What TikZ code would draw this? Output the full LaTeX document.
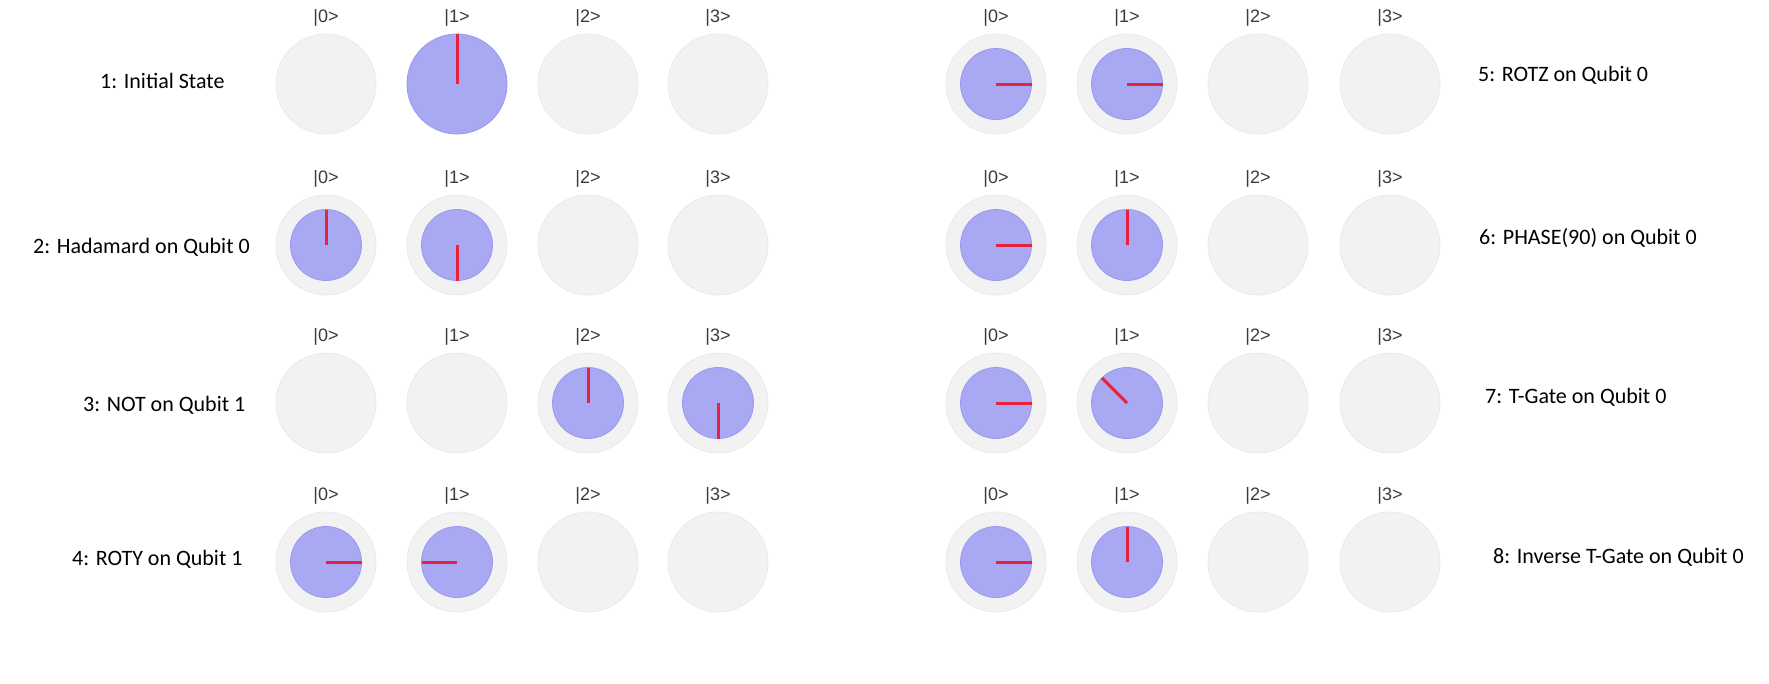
\documentclass[tikz,border=0pt]{standalone}
\usepackage{fontspec}
\setmainfont{Carlito}
\newfontfamily\ketfont{Liberation Sans}
\definecolor{ringfill}{HTML}{F2F2F2}
\definecolor{ringedge}{HTML}{EAEAEA}
\definecolor{ampfill}{HTML}{A9A9F3}
\definecolor{ampedge}{HTML}{9898F0}
\definecolor{handred}{HTML}{E6223F}
\definecolor{ketgray}{HTML}{3A3A3A}
\tikzset{
  ring/.style={circle, fill=ringfill, draw=ringedge, line width=0.8pt, inner sep=0pt, minimum size=100pt},
  amp/.style={circle, fill=ampfill, draw=ampedge, line width=0.8pt, inner sep=0pt, outer sep=0pt, minimum size=#1},
  hand/.style={draw=handred, line width=3pt},
  ket/.style={font=\ketfont\fontsize{18}{20}\selectfont, text=ketgray, inner sep=0pt},
  steplabel/.style={font=\fontsize{22}{24}\selectfont, anchor=west, inner sep=0pt},
}
% ring with ket label
\newcommand\qring[4]{% name, x, y, ket
  \node[ring] (#1) at (#2,#3) {};
  \node[ket] (#1k) at (#2,#3-66) {|#4>};
}
% amplitude dial: name, ring name, diameter, angle
\newcommand\qamp[4]{%
  \node[amp=#3] (#1) at (#2.center) {};
  \draw[hand] (#1.center) -- (#1.#4);
}
\begin{document}
\begin{tikzpicture}[x=1pt,y=-1pt]
\useasboundingbox (0,0) rectangle (1769,683);
% ---------- left group ----------
\foreach \r/\yy in {a/84,b/245,c/403,d/562}{
  \qring{L\r0}{326}{\yy}{0}
  \qring{L\r1}{457}{\yy}{1}
  \qring{L\r2}{588}{\yy}{2}
  \qring{L\r3}{718}{\yy}{3}
}
% ---------- right group ----------
\foreach \r/\yy in {e/84,f/245,g/403,h/562}{
  \qring{R\r0}{996}{\yy}{0}
  \qring{R\r1}{1127}{\yy}{1}
  \qring{R\r2}{1258}{\yy}{2}
  \qring{R\r3}{1390}{\yy}{3}
}
% row 1
\qamp{Aa1}{La1}{100pt}{90}
% row 2
\qamp{Ab0}{Lb0}{71pt}{90}
\qamp{Ab1}{Lb1}{71pt}{270}
% row 3
\qamp{Ac2}{Lc2}{71pt}{90}
\qamp{Ac3}{Lc3}{71pt}{270}
% row 4
\qamp{Ad0}{Ld0}{71pt}{0}
\qamp{Ad1}{Ld1}{71pt}{180}
% row 5
\qamp{Ae0}{Re0}{71pt}{0}
\qamp{Ae1}{Re1}{71pt}{0}
% row 6
\qamp{Af0}{Rf0}{71pt}{0}
\qamp{Af1}{Rf1}{71pt}{90}
% row 7
\qamp{Ag0}{Rg0}{71pt}{0}
\qamp{Ag1}{Rg1}{71pt}{135}
% row 8
\qamp{Ah0}{Rh0}{71pt}{0}
\qamp{Ah1}{Rh1}{71pt}{90}
% ---------- step labels ----------
\node[steplabel] (s1) at (100,81) {1: Initial State};
\node[steplabel] (s2) at (33,247) {2: Hadamard on Qubit 0};
\node[steplabel] (s3) at (83,405) {3: NOT on Qubit 1};
\node[steplabel] (s4) at (72,559) {4: ROTY on Qubit 1};
\node[steplabel] (s5) at (1478,75) {5: ROTZ on Qubit 0};
\node[steplabel] (s6) at (1479,238) {6: PHASE(90) on Qubit 0};
\node[steplabel] (s7) at (1485,397) {7: T-Gate on Qubit 0};
\node[steplabel] (s8) at (1493,557) {8: Inverse T-Gate on Qubit 0};
\end{tikzpicture}
\end{document}
